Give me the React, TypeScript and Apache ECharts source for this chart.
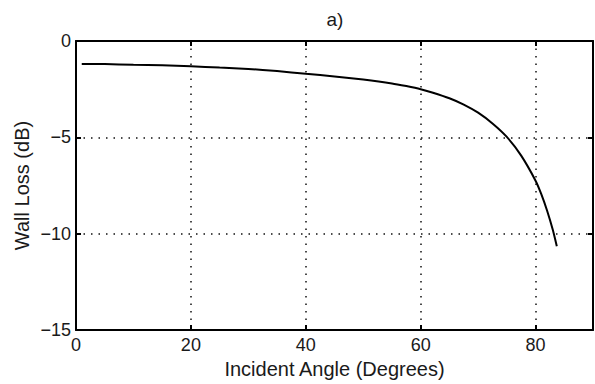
import React, { useEffect, useRef } from "react";
import * as echarts from "echarts";

const angles = [1, 5, 10, 15, 20, 25, 30, 35, 40, 45, 50, 55, 57.5, 60, 62, 65, 67.5, 70, 72.5, 75, 77.5, 80, 81, 82, 83, 83.7];
const wallLoss = [-1.19, -1.2, -1.23, -1.26, -1.31, -1.38, -1.45, -1.56, -1.7, -1.84, -2.0, -2.2, -2.34, -2.5, -2.67, -2.97, -3.3, -3.72, -4.28, -4.98, -5.95, -7.25, -7.95, -8.8, -9.8, -10.65];
const xTicks = { min: 0, max: 90, interval: 20 };
const yTicks = { min: -15, max: 0, interval: 5 };
const titleText = "a)";
const xName = "Incident Angle (Degrees)";
const yName = "Wall Loss (dB)";

const FONT = "'Liberation Sans', Arial, sans-serif";
const TXT = "#1a1a1a";

export default function App() {
  const ref = useRef<HTMLDivElement>(null);
  useEffect(() => {
    if (!ref.current) return;
    const chart = echarts.init(ref.current, undefined, { renderer: "svg" });
    const gridLine = { show: true, lineStyle: { color: "#111", width: 1.5, type: [1.5, 6] as any } };
    const axisLine = { show: true, onZero: false, lineStyle: { color: "#000", width: 2 } };
    const tick = { show: true, inside: true, length: 5, lineStyle: { color: "#000", width: 2 } };
    chart.setOption({
      animation: false,
      backgroundColor: "#fff",
      textStyle: { fontFamily: FONT },
      grid: { left: 76, right: 2, top: 41, bottom: 52 },
      graphic: [
        {
          type: "text",
          x: 335,
          y: 19,
          style: { text: titleText, font: `19px ${FONT}`, fill: TXT, textAlign: "center", textVerticalAlign: "middle" },
        },
      ],
      xAxis: [
        {
          type: "value",
          position: "bottom",
          ...xTicks,
          axisLine,
          axisTick: tick,
          splitLine: gridLine,
          axisLabel: { color: TXT, fontSize: 18, fontFamily: FONT, margin: 6, showMaxLabel: false },
          name: xName,
          nameLocation: "middle",
          nameGap: 29,
          nameMoveOverlap: false,
          nameTextStyle: { color: TXT, fontSize: 20, fontFamily: FONT },
        },
        {
          type: "value",
          position: "top",
          ...xTicks,
          axisLine,
          axisTick: tick,
          splitLine: { show: false },
          axisLabel: { show: false },
        },
      ],
      yAxis: [
        {
          type: "value",
          position: "left",
          ...yTicks,
          axisLine,
          axisTick: tick,
          splitLine: gridLine,
          axisLabel: {
            color: TXT,
            fontSize: 18,
            fontFamily: FONT,
            margin: 5,
            formatter: (v: number) => String(v).replace("-", "\u2212"),
          },
          name: yName,
          nameLocation: "middle",
          nameGap: 44,
          nameMoveOverlap: false,
          nameTextStyle: { color: TXT, fontSize: 20, fontFamily: FONT },
        },
        {
          type: "value",
          position: "right",
          ...yTicks,
          axisLine,
          axisTick: tick,
          splitLine: { show: false },
          axisLabel: { show: false },
        },
      ],
      series: [
        {
          type: "line",
          xAxisIndex: 0,
          yAxisIndex: 0,
          data: angles.map((a, i) => [a, wallLoss[i]]),
          showSymbol: false,
          smooth: 0.2,
          lineStyle: { color: "#000", width: 2 },
        },
      ],
    });
    return () => chart.dispose();
  }, []);
  return <div ref={ref} style={{ position: "fixed", left: 0, top: 0, width: 595, height: 384, background: "#fff" }} />;
}
